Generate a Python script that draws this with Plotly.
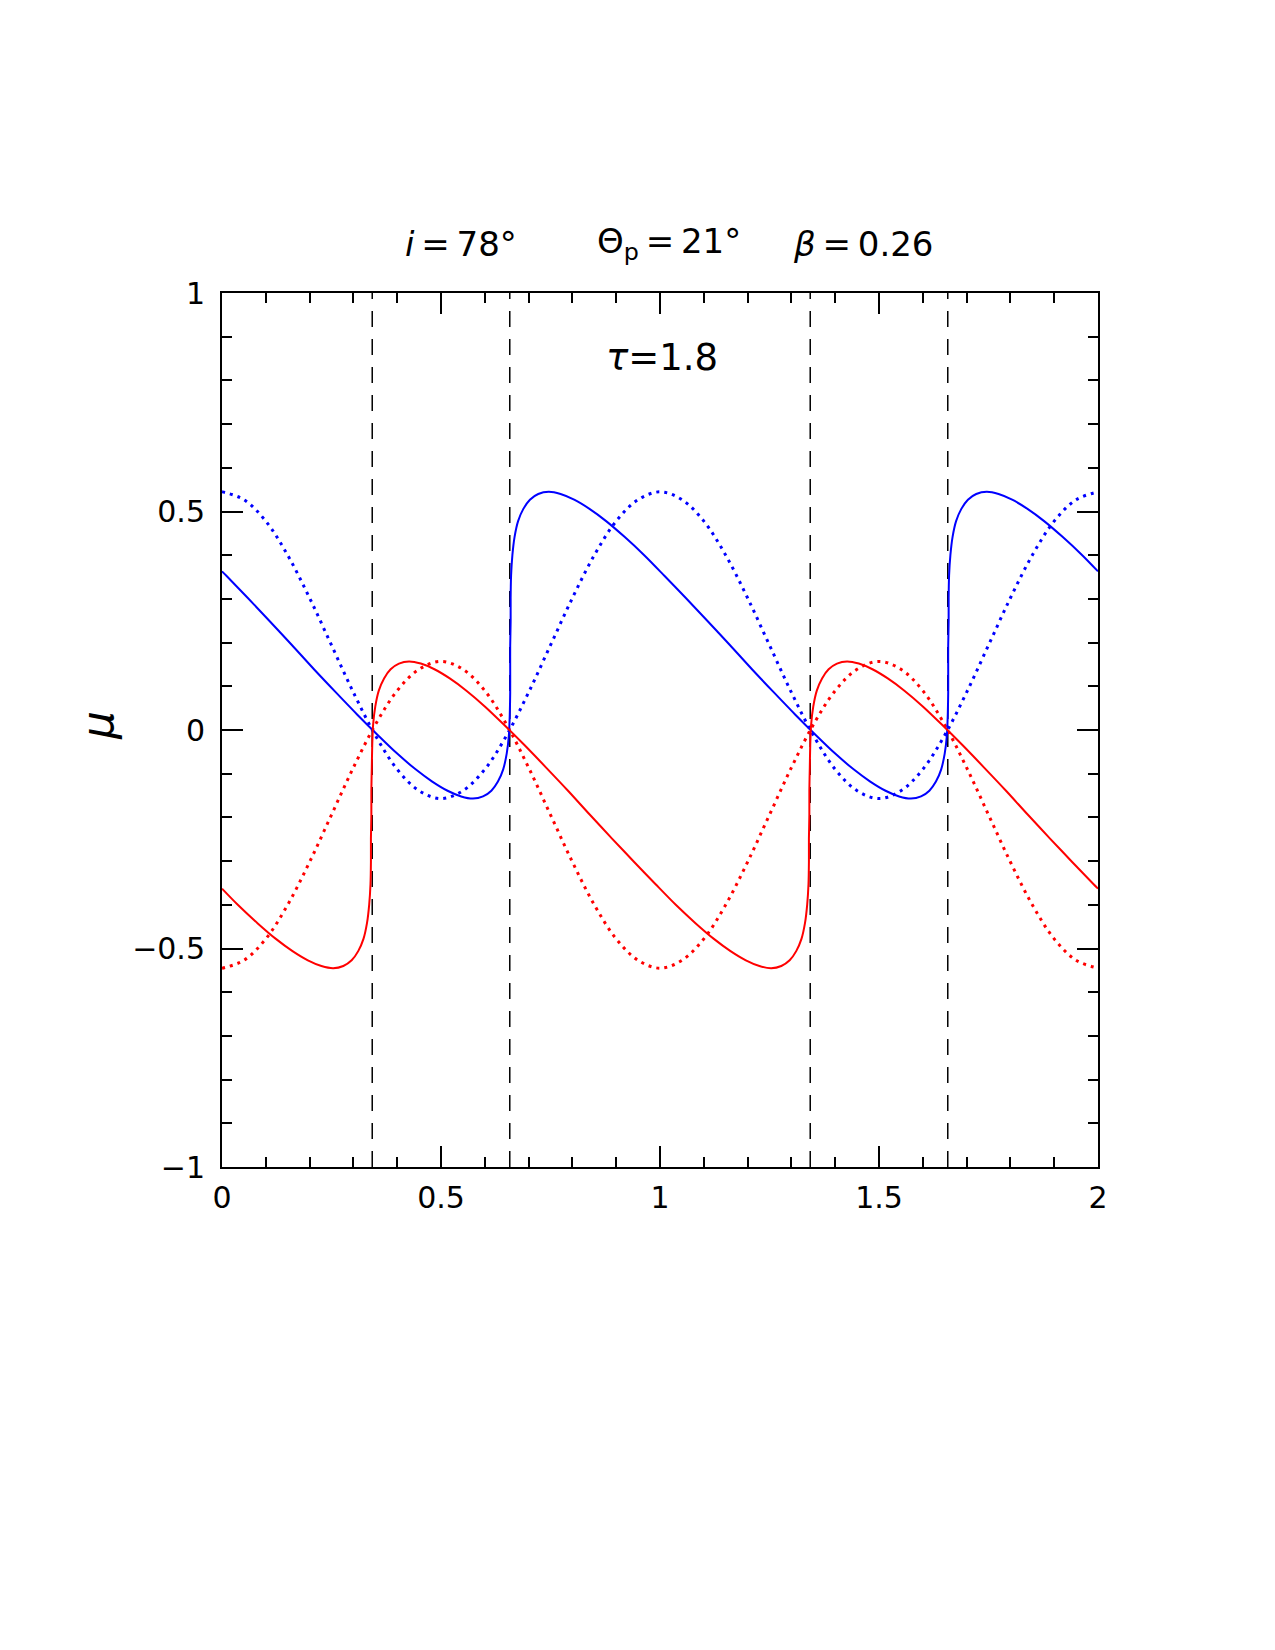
import plotly.graph_objects as go

# ---------------- data ----------------
phase_dotted = [0.00, 0.05, 0.10, 0.15, 0.20, 0.25, 0.30, 0.35, 0.40, 0.45, 0.50,
                0.55, 0.60, 0.65, 0.70, 0.75, 0.80, 0.85, 0.90, 0.95, 1.00,
                1.05, 1.10, 1.15, 1.20, 1.25, 1.30, 1.35, 1.40, 1.45, 1.50,
                1.55, 1.60, 1.65, 1.70, 1.75, 1.80, 1.85, 1.90, 1.95, 2.00]
mu_blue_dotted = [0.545, 0.527, 0.478, 0.400, 0.302, 0.194, 0.086, -0.012, -0.090, -0.139, -0.157,
                  -0.139, -0.090, -0.012, 0.086, 0.194, 0.302, 0.400, 0.478, 0.527, 0.545,
                  0.527, 0.478, 0.400, 0.302, 0.194, 0.086, -0.012, -0.090, -0.139, -0.157,
                  -0.139, -0.090, -0.012, 0.086, 0.194, 0.302, 0.400, 0.478, 0.527, 0.545]
mu_red_dotted = [-0.545, -0.527, -0.478, -0.400, -0.302, -0.194, -0.086, 0.012, 0.090, 0.139, 0.157,
                 0.139, 0.090, 0.012, -0.086, -0.194, -0.302, -0.400, -0.478, -0.527, -0.545,
                 -0.527, -0.478, -0.400, -0.302, -0.194, -0.086, 0.012, 0.090, 0.139, 0.157,
                 0.139, 0.090, 0.012, -0.086, -0.194, -0.302, -0.400, -0.478, -0.527, -0.545]

phase_blue_solid = [0.000, 0.010, 0.059, 0.109, 0.160, 0.210, 0.260, 0.309, 0.356, 0.400,
                    0.442, 0.480, 0.515, 0.546, 0.573, 0.596, 0.615, 0.630, 0.642, 0.650,
                    0.655, 0.657, 0.658, 0.658, 0.658, 0.659, 0.659, 0.660, 0.663, 0.668,
                    0.676, 0.688, 0.703, 0.722, 0.746, 0.773, 0.804, 0.839, 0.877, 0.919,
                    0.964, 1.010, 1.059, 1.109, 1.160, 1.210, 1.260, 1.309, 1.356, 1.400,
                    1.442, 1.480, 1.515, 1.546, 1.573, 1.596, 1.615, 1.630, 1.642, 1.650,
                    1.655, 1.657, 1.658, 1.658, 1.658, 1.659, 1.659, 1.660, 1.663, 1.668,
                    1.676, 1.688, 1.703, 1.722, 1.746, 1.773, 1.804, 1.839, 1.877, 1.919,
                    1.964, 2.000]
mu_blue_solid = [0.363, 0.353, 0.302, 0.249, 0.194, 0.139, 0.086, 0.035, -0.012, -0.054,
                 -0.090, -0.118, -0.139, -0.152, -0.157, -0.152, -0.139, -0.118, -0.090, -0.054,
                 -0.012, 0.035, 0.086, 0.139, 0.194, 0.249, 0.302, 0.353, 0.400, 0.442,
                 0.478, 0.506, 0.527, 0.540, 0.545, 0.540, 0.527, 0.506, 0.478, 0.442,
                 0.400, 0.353, 0.302, 0.249, 0.194, 0.139, 0.086, 0.035, -0.012, -0.054,
                 -0.090, -0.118, -0.139, -0.152, -0.157, -0.152, -0.139, -0.118, -0.090, -0.054,
                 -0.012, 0.035, 0.086, 0.139, 0.194, 0.249, 0.302, 0.353, 0.400, 0.442,
                 0.478, 0.506, 0.527, 0.540, 0.545, 0.540, 0.527, 0.506, 0.478, 0.442,
                 0.400, 0.363]

phase_red_solid = [0.000, 0.036, 0.081, 0.123, 0.161, 0.196, 0.227, 0.254, 0.277, 0.296,
                   0.311, 0.323, 0.331, 0.336, 0.339, 0.340, 0.340, 0.341, 0.341, 0.342,
                   0.343, 0.345, 0.350, 0.358, 0.370, 0.385, 0.404, 0.427, 0.454, 0.485,
                   0.520, 0.558, 0.600, 0.644, 0.691, 0.740, 0.790, 0.840, 0.891, 0.941,
                   0.990, 1.036, 1.081, 1.123, 1.161, 1.196, 1.227, 1.254, 1.277, 1.296,
                   1.311, 1.323, 1.331, 1.336, 1.339, 1.340, 1.340, 1.341, 1.341, 1.342,
                   1.343, 1.345, 1.350, 1.358, 1.370, 1.385, 1.404, 1.427, 1.454, 1.485,
                   1.520, 1.558, 1.600, 1.644, 1.691, 1.740, 1.790, 1.840, 1.891, 1.941,
                   1.990, 2.000]
mu_red_solid = [-0.363, -0.400, -0.442, -0.478, -0.506, -0.527, -0.540, -0.545, -0.540, -0.527,
                -0.506, -0.478, -0.442, -0.400, -0.353, -0.302, -0.249, -0.194, -0.139, -0.086,
                -0.035, 0.012, 0.054, 0.090, 0.118, 0.139, 0.152, 0.157, 0.152, 0.139,
                0.118, 0.090, 0.054, 0.012, -0.035, -0.086, -0.139, -0.194, -0.249, -0.302,
                -0.353, -0.400, -0.442, -0.478, -0.506, -0.527, -0.540, -0.545, -0.540, -0.527,
                -0.506, -0.478, -0.442, -0.400, -0.353, -0.302, -0.249, -0.194, -0.139, -0.086,
                -0.035, 0.012, 0.054, 0.090, 0.118, 0.139, 0.152, 0.157, 0.152, 0.139,
                0.118, 0.090, 0.054, 0.012, -0.035, -0.086, -0.139, -0.194, -0.249, -0.302,
                -0.353, -0.363]

zero_crossings = [0.343, 0.657, 1.343, 1.657]
y_span = [-1, 1]

x_tickvals = [0, 0.5, 1, 1.5, 2]
x_ticktext = ["0", "0.5", "1", "1.5", "2"]
y_tickvals = [-1, -0.5, 0, 0.5, 1]
y_ticktext = ["\u22121", "\u22120.5", "0", "0.5", "1"]

title_parts = ["<i>i</i>\u2009=\u200978°", "Θ<sub>p</sub>\u2009=\u200921°", "<i>β</i>\u2009=\u20090.26"]
tau_text = "<i>τ</i>=1.8"
ylabel_text = "<i>μ</i>"

# ---------------- figure ----------------
FONT = "DejaVu Sans"
fig = go.Figure()

for xv in zero_crossings:
    fig.add_trace(go.Scatter(x=[xv, xv], y=y_span, mode="lines",
                             line=dict(color="black", width=1.5, dash="16px,12px"),
                             showlegend=False, hoverinfo="skip"))

fig.add_trace(go.Scatter(x=phase_dotted, y=mu_blue_dotted, mode="lines",
                         line=dict(color="#0000ff", width=3, dash="3px,5px",
                                   shape="spline", smoothing=1.0),
                         showlegend=False))
fig.add_trace(go.Scatter(x=phase_dotted, y=mu_red_dotted, mode="lines",
                         line=dict(color="#ff0000", width=3, dash="3px,5px",
                                   shape="spline", smoothing=1.0),
                         showlegend=False))
fig.add_trace(go.Scatter(x=phase_blue_solid, y=mu_blue_solid, mode="lines",
                         line=dict(color="#0000ff", width=2, shape="spline", smoothing=0.8),
                         showlegend=False))
fig.add_trace(go.Scatter(x=phase_red_solid, y=mu_red_solid, mode="lines",
                         line=dict(color="#ff0000", width=2, shape="spline", smoothing=0.8),
                         showlegend=False))

axis_common = dict(showline=True, linecolor="black", linewidth=2, mirror="ticks",
                   ticks="inside", ticklen=21, tickwidth=1.5, tickcolor="black",
                   showgrid=False, zeroline=False,
                   tickfont=dict(family=FONT, size=30, color="black"))

fig.update_xaxes(range=[0, 2], tickmode="array", tickvals=x_tickvals, ticktext=x_ticktext,
                 minor=dict(ticks="inside", ticklen=10, tickwidth=1.5, tickcolor="black",
                            dtick=0.1, tick0=0, showgrid=False),
                 ticklabelstandoff=3, **axis_common)
fig.update_yaxes(range=[-1, 1], tickmode="array", tickvals=y_tickvals, ticktext=y_ticktext,
                 minor=dict(ticks="inside", ticklen=10, tickwidth=1.5, tickcolor="black",
                            dtick=0.1, tick0=0, showgrid=False),
                 ticklabelstandoff=9, **axis_common)

ann = []
for txt, px in zip(title_parts, [403, 595, 791]):
    ann.append(dict(text=txt, xref="paper", yref="paper", x=(px - 222) / 876,
                    y=(1167 - 244) / 874, xanchor="left", yanchor="middle",
                    showarrow=False, font=dict(family=FONT, size=34, color="black")))
ann.append(dict(text=tau_text, xref="paper", yref="paper", x=(662 - 222) / 876,
                y=(1167 - 357) / 874, xanchor="center", yanchor="middle",
                showarrow=False, font=dict(family=FONT, size=37, color="black")))
ann.append(dict(text=ylabel_text, xref="paper", yref="paper", x=(97 - 222) / 876,
                y=(1167 - 726) / 874, xanchor="center", yanchor="middle", textangle=-90,
                showarrow=False, font=dict(family=FONT, size=44, color="black")))

fig.update_layout(width=1275, height=1650,
                  margin=dict(l=222, r=177, t=293, b=483, autoexpand=False),
                  paper_bgcolor="white", plot_bgcolor="white",
                  annotations=ann)

fig.write_html("out.html")
